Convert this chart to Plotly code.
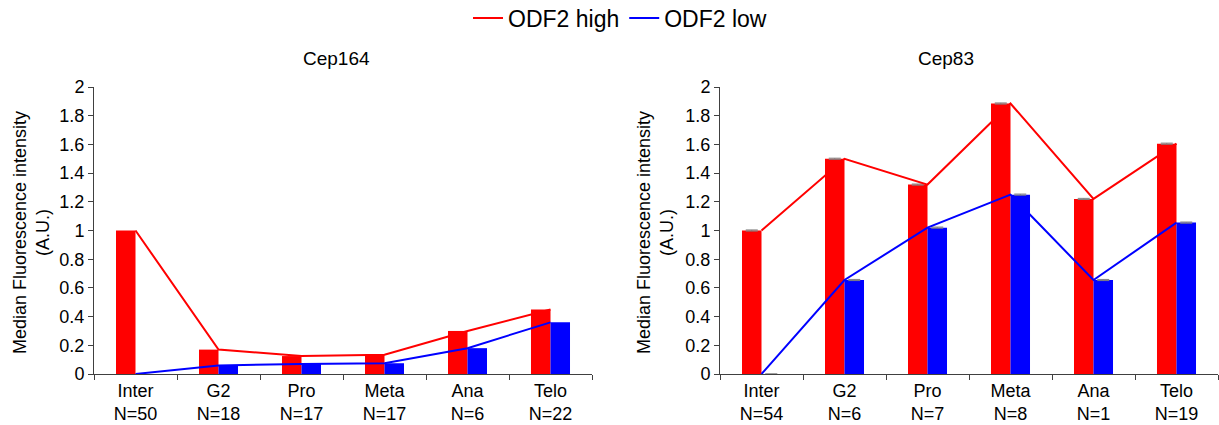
import plotly.graph_objects as go

phases = ["Inter", "G2", "Pro", "Meta", "Ana", "Telo"]
n_cep164 = [50, 18, 17, 17, 6, 22]
n_cep83 = [54, 6, 7, 8, 1, 19]

cep164_high = [1.0, 0.17, 0.125, 0.135, 0.30, 0.45]
cep164_low = [0.0, 0.06, 0.07, 0.075, 0.18, 0.36]
cep83_high = [1.0, 1.5, 1.32, 1.885, 1.22, 1.605]
cep83_low = [0.0, 0.655, 1.02, 1.25, 0.655, 1.055]
cep83_high_err = [0.004, 0.004, 0.004, 0.004, 0.004, 0.004]
cep83_low_err = [0.0, 0.004, 0.004, 0.004, 0.004, 0.004]

yticks = [0, 0.2, 0.4, 0.6, 0.8, 1, 1.2, 1.4, 1.6, 1.8, 2]

RED = "#FF0000"
BLUE = "#0000FF"
AXC = "#404040"
FONT = "Liberation Sans, Arial, sans-serif"

W, H = 1219, 425

cats164 = [f"{p}<br>N={n}" for p, n in zip(phases, n_cep164)]
cats83 = [f"{p}<br>N={n}" for p, n in zip(phases, n_cep83)]

fig = go.Figure()
BW = 0.235

def add_panel(cats, hi, lo, xa, ya, show, hi_err=None, lo_err=None):
    ehi = dict(type="data", array=hi_err, color="#808080", thickness=1, width=6, visible=True) if hi_err else None
    elo = dict(type="data", array=lo_err, color="#808080", thickness=1, width=6, visible=True) if lo_err else None
    fig.add_trace(go.Bar(x=cats, y=hi, width=BW, offset=-BW, marker=dict(color=RED, line=dict(width=0)),
                         xaxis=xa, yaxis=ya, showlegend=False, error_y=ehi))
    fig.add_trace(go.Bar(x=cats, y=lo, width=BW, offset=0, marker=dict(color=BLUE, line=dict(width=0)),
                         xaxis=xa, yaxis=ya, showlegend=False, error_y=elo))
    fig.add_trace(go.Scatter(x=cats, y=hi, mode="lines", line=dict(color=RED, width=2),
                             name="ODF2 high", xaxis=xa, yaxis=ya, showlegend=show, legendgroup="h"))
    fig.add_trace(go.Scatter(x=cats, y=lo, mode="lines", line=dict(color=BLUE, width=2),
                             name="ODF2 low", xaxis=xa, yaxis=ya, showlegend=show, legendgroup="l"))

add_panel(cats164, cep164_high, cep164_low, "x", "y", True)
add_panel(cats83, cep83_high, cep83_low, "x2", "y2", False, cep83_high_err, cep83_low_err)

ydom = [51 / H, 338 / H]
xcommon = dict(type="category", range=[-0.5, 5.5], showline=True, linecolor=AXC, linewidth=1,
               ticks="outside", tickson="boundaries", ticklen=5, tickcolor=AXC, showgrid=False,
               zeroline=False, automargin=False, tickfont=dict(size=18, color="#000000", family=FONT))
ycommon = dict(range=[0, 2], tickvals=yticks, showline=True, linecolor=AXC, linewidth=1,
               ticks="outside", ticklen=5, tickcolor=AXC, showgrid=False, zeroline=False,
               automargin=False, tickfont=dict(size=18, color="#000000", family=FONT))

fig.update_layout(
    width=W, height=H,
    margin=dict(l=0, r=0, t=0, b=0, pad=0, autoexpand=False),
    paper_bgcolor="white", plot_bgcolor="white",
    font=dict(family=FONT, color="#000000"),
    barmode="overlay",
    xaxis=dict(domain=[94 / W, 592 / W], anchor="y", **xcommon),
    yaxis=dict(domain=ydom, anchor="x", **ycommon),
    xaxis2=dict(domain=[720 / W, 1218 / W], anchor="y2", **xcommon),
    yaxis2=dict(domain=ydom, anchor="x2", **ycommon),
    legend=dict(orientation="h", x=620 / W, xanchor="center", y=1 - 18 / H, yanchor="middle",
                font=dict(size=23, family=FONT), bgcolor="rgba(0,0,0,0)"),
    annotations=[
        dict(text="Cep164", x=336 / W, y=1 - 58 / H, xref="paper", yref="paper", showarrow=False,
             font=dict(size=19, family=FONT), xanchor="center", yanchor="middle"),
        dict(text="Cep83", x=946 / W, y=1 - 58 / H, xref="paper", yref="paper", showarrow=False,
             font=dict(size=19, family=FONT), xanchor="center", yanchor="middle"),
        dict(text="Median Fluorescence intensity<br>(A.U.)", x=31 / W, y=1 - 233 / H, xref="paper",
             yref="paper", showarrow=False, textangle=-90, font=dict(size=18, family=FONT),
             xanchor="center", yanchor="middle"),
        dict(text="Median Fluorescence intensity<br>(A.U.)", x=655 / W, y=1 - 233 / H, xref="paper",
             yref="paper", showarrow=False, textangle=-90, font=dict(size=18, family=FONT),
             xanchor="center", yanchor="middle"),
    ],
)

fig.write_html(
    "out.html",
    config={"displayModeBar": False},
    post_script="document.body.style.margin='0';document.body.style.padding='0';"
                "document.documentElement.style.overflow='hidden';",
)
